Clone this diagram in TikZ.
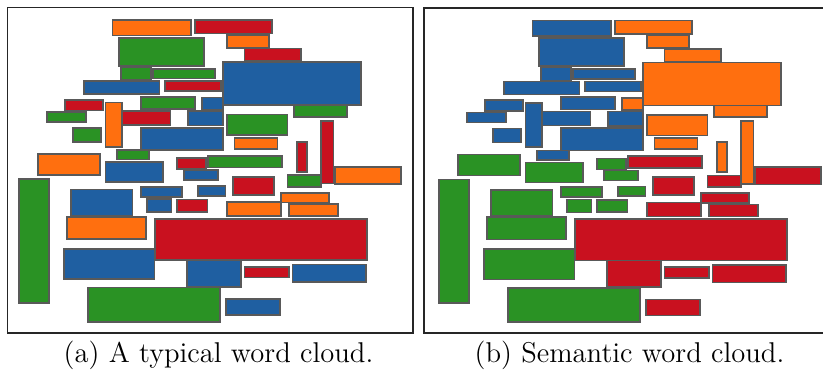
\documentclass[tikz,border=0pt]{standalone}
\usepackage[svgnames]{xcolor}
\usepackage{tikz}
\usetikzlibrary{positioning}

\definecolor{wcB}{RGB}{31,95,161}
\definecolor{wcO}{RGB}{255,111,15}
\definecolor{wcG}{RGB}{42,146,36}
\definecolor{wcR}{RGB}{201,17,31}

\begin{document}
\begin{tikzpicture}[x=0.5pt, y=-0.5pt,
        word/.style={draw=black!65, line width=0.8pt},
        panel/.style={draw=black!85, line width=0.9pt},
        caption/.style={anchor=base, inner sep=0pt, font=\fontsize{14.3pt}{17pt}\selectfont}]
            \def\shift{420}

            \useasboundingbox (0,0) rectangle (823,371);
            \clip (0,0) rectangle (823,371);
            \fill[white] (0,0) rectangle (823,371);

            % panel borders
            \draw[panel] (7.5,7.5) rectangle (413,332.7);
            \draw[panel] (424,8) rectangle (829.5,332.7);

            % words: x1/y1/x2/y2/colour left/colour right
            \foreach \xa/\ya/\xb/\yb/\cl/\cr in {
                112.3/20/190.7/35.3/O/B, 194.7/20/272/33.3/R/O,
                119/37.7/204/65.7/G/B, 226.7/35/269/47.7/O/O,
                244.3/48.3/300.7/61/R/O, 120.7/66.7/150.7/80/G/B,
                152.7/68.7/215/78.3/G/B, 222.7/62/361/105/B/O,
                84/81/159.3/94/B/B, 164.7/81/220.7/91/R/B,
                141/96.7/195/109/G/B, 202/97.3/222.7/109.3/B/O,
                65/99.7/103/110.3/R/B, 105.3/102.3/122/146.7/O/B,
                46.7/112/86/122/G/B, 122/111/170.3/125/R/B,
                187.7/111/222.7/125.3/B/B, 72.7/128/100.7/142/G/B,
                141/127.7/222.7/150/B/B, 226.7/114.3/287.3/135/G/O,
                294/105/346.7/116.7/G/O, 234.3/137.7/277.3/148.7/O/O,
                321/120.7/333.3/183.3/R/O, 296.7/141.7/307/171.7/R/O,
                208/155.7/281.7/167.3/G/R, 335/166.7/401/184/O/R,
                116.7/150/149/159.3/G/B, 37.7/154/100/175/O/G,
                105.3/162/162.7/182/B/G, 176.7/158/205.7/169/R/G,
                183.7/170/217.7/180/B/G, 18.7/179/48.7/302.7/G/G,
                71/189.3/132.3/215.7/B/G, 67/216.7/145.7/239/O/G,
                64/248.7/154.3/279/B/G, 88/287.3/220/321.7/G/G,
                141/186.7/182/196.7/B/G, 197.7/186/225.3/195.7/B/G,
                147/199/171.3/212/B/G, 177/199.3/207.3/211.7/R/G,
                154.7/218.7/366.7/260/R/R, 186.7/260/241/286.7/B/R,
                232.7/176.7/274/194.7/R/R, 287.3/175/320.7/186.7/G/R,
                280.7/192.7/328.7/202.3/O/R, 226.7/202/280.7/216/O/R,
                288.7/204/338/216/O/R, 244.3/266.7/289/277.3/R/R,
                292.3/264.3/365.7/282/B/R, 226/299/279.7/315/B/R}
            {
                \draw[word, fill=wc\cl] (\xa,\ya) rectangle (\xb,\yb);
                \draw[word, fill=wc\cr] (\xa+\shift,\ya+0.5) rectangle (\xb+\shift,\yb+0.5);
            }

            % captions
            \node[caption] (capA) at (218.5,362) {(a) A typical word cloud.};
            \node[caption] (capB) at (629.5,362) {(b) Semantic word cloud.};
        \end{tikzpicture}
\end{document}
